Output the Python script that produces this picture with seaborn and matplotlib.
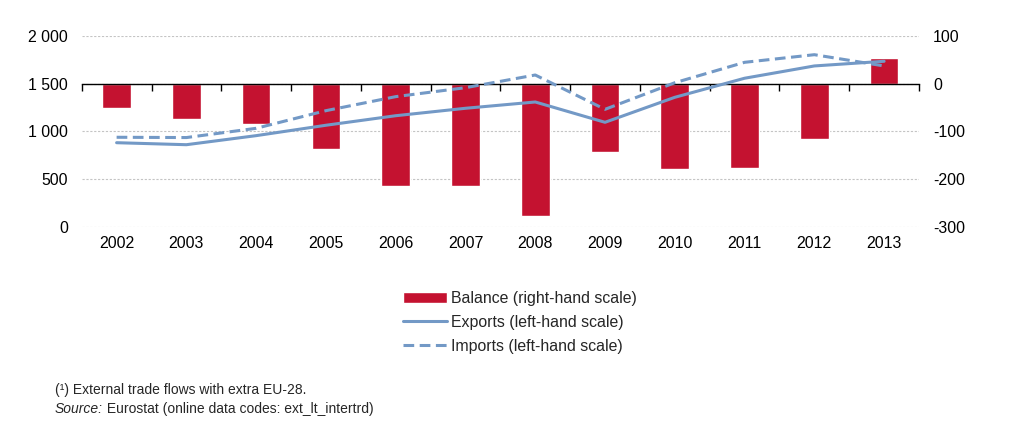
import numpy as np
import pandas as pd
import matplotlib
matplotlib.use("Agg")
import matplotlib.pyplot as plt
from matplotlib.ticker import FixedLocator, FuncFormatter
import seaborn as sns

# ---- data ----
years = [2002, 2003, 2004, 2005, 2006, 2007, 2008, 2009, 2010, 2011, 2012, 2013]
balance = [-52, -75, -84, -136, -214, -214, -277, -143, -180, -176, -117, 53]
exports = [881, 860, 955, 1064, 1164, 1242, 1308, 1095, 1357, 1557, 1686, 1735]
imports = [938, 935, 1032, 1217, 1364, 1458, 1591, 1231, 1510, 1724, 1804, 1686]
left_ticks = [0, 500, 1000, 1500, 2000]
right_ticks = [-300, -200, -100, 0, 100]
label_balance = "Balance (right-hand scale)"
label_exports = "Exports (left-hand scale)"
label_imports = "Imports (left-hand scale)"
footnote = "(\u00b9) External trade flows with extra EU-28."
source_lbl = "Source:"
source_txt = " Eurostat (online data codes: ext_lt_intertrd)"

RED = "#C41230"
BLUE = "#7399C6"
FS = 11.4

sns.set_theme(style="white")
plt.rcParams["font.family"] = ["Liberation Sans", "DejaVu Sans"]

fig = plt.figure(figsize=(10.32, 4.38), dpi=100)
ax = fig.add_axes([0.0792, 0.4824, 0.8113, 0.4354])
ax2 = ax.twinx()

# bars on right-hand scale (behind)
sns.barplot(x=years, y=balance, native_scale=True, width=0.41, color=RED,
            saturation=1, orient="v", ax=ax2, label=label_balance, errorbar=None)

# lines on left-hand scale (front)
sns.lineplot(x=years, y=exports, ax=ax, color=BLUE, linewidth=2.2,
             label=label_exports)
sns.lineplot(x=years, y=imports, ax=ax, color=BLUE, linewidth=2.2,
             linestyle=(0, (3.5, 1.8)), label=label_imports)

ax.set_zorder(ax2.get_zorder() + 1)
ax.patch.set_visible(False)

for a in (ax, ax2):
    lg = a.get_legend()
    if lg is not None:
        lg.remove()
    for s in a.spines.values():
        s.set_visible(False)
    a.set_xlabel("")
    a.set_ylabel("")

ax.set_xlim(years[0] - 0.5, years[-1] + 0.5)
ax.set_ylim(left_ticks[0], left_ticks[-1])
ax2.set_ylim(right_ticks[0], right_ticks[-1])

ax.xaxis.set_major_locator(FixedLocator(years))
ax.xaxis.set_minor_locator(FixedLocator(np.arange(years[0] - 0.5, years[-1] + 1, 1.0)))
ax.xaxis.set_major_formatter(FuncFormatter(lambda v, p: f"{int(round(v))}"))

ax.set_yticks(left_ticks)
ax.yaxis.set_major_formatter(FuncFormatter(lambda v, p: f"{int(v):,}".replace(",", " ")))
ax2.set_yticks(right_ticks)
ax2.yaxis.set_major_formatter(FuncFormatter(lambda v, p: f"{int(v)}"))

ax.tick_params(axis="y", length=0, pad=10, labelsize=FS, labelcolor="black")
ax2.tick_params(axis="y", length=0, pad=10, labelsize=FS, labelcolor="black")
ax.tick_params(axis="x", which="major", length=0, pad=7, labelsize=FS, labelcolor="black")
ax.tick_params(axis="x", which="minor", length=0)

# zero line of the balance axis with category tick marks
ax2.xaxis.set_visible(True)
ax2.spines["bottom"].set_visible(True)
ax2.spines["bottom"].set_position(("data", 0))
ax2.spines["bottom"].set_color("black")
ax2.spines["bottom"].set_linewidth(1.0)
ax2.tick_params(axis="x", which="major", bottom=False, top=False, length=0,
                labelbottom=False, labeltop=False)
ax2.tick_params(axis="x", which="minor", bottom=True, top=False, length=5,
                width=1.0, direction="out", color="black", labelbottom=False)

ax2.set_axisbelow(True)
ax2.grid(axis="y", linestyle=(0, (2, 1.5)), color="#c4c4c4", linewidth=0.8)
ax.grid(False)
ax2.grid(axis="x", visible=False)

# legend
h1, l1 = ax2.get_legend_handles_labels()
h2, l2 = ax.get_legend_handles_labels()
fig.legend(h1 + h2, l1 + l2, loc="upper center", bbox_to_anchor=(0.504, 0.369),
           frameon=False, fontsize=FS, handlelength=2.75, handletextpad=0.25,
           labelspacing=0.58)

# footnotes
fig.text(55 / 1032, 1 - 390 / 438, footnote, fontsize=10, va="center", ha="left")
t1 = fig.text(55 / 1032, 1 - 409 / 438, source_lbl, fontsize=10, style="italic",
              va="center", ha="left")
ann = plt.annotate(source_txt, xy=(1, 0), xycoords=t1, va="bottom", ha="left",
                   fontsize=10, annotation_clip=False)

fig.savefig("out.png", dpi=100)
